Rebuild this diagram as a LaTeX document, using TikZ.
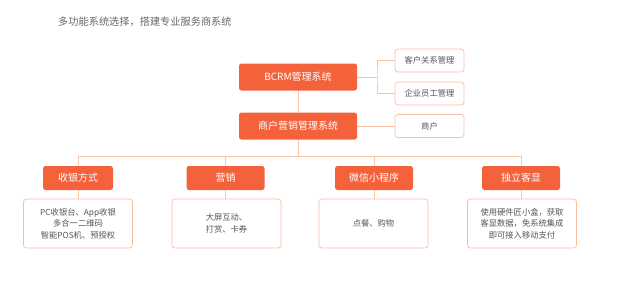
\documentclass[tikz,border=0pt]{standalone}
\usepackage{fontspec}
\setmainfont{Noto Sans CJK SC}
\usetikzlibrary{backgrounds}
\definecolor{hotorange}{HTML}{F4623C}
\definecolor{paleorange}{HTML}{F9C4A6}
\definecolor{edgeorange}{HTML}{F7BFA2}
\definecolor{txtgray}{HTML}{555555}
\tikzset{
  mainbox/.style={fill=hotorange, draw=none, rounded corners=2.5pt, text=white,
    minimum width=118pt, minimum height=27pt, inner sep=0pt, font=\fontsize{10}{12}\selectfont},
  sidebox/.style={draw=edgeorange, fill=white, rounded corners=3pt, text=txtgray,
    minimum width=69pt, minimum height=23pt, inner sep=0pt, line width=0.7pt,
    font=\fontsize{8.3}{10}\selectfont},
  catbox/.style={fill=hotorange, draw=none, rounded corners=2.5pt, text=white,
    minimum width=78pt, minimum height=24pt, inner sep=0pt, font=\fontsize{10}{12}\selectfont},
  infobox/.style={draw=edgeorange, fill=white, rounded corners=3pt, text=txtgray,
    minimum width=109pt, minimum height=49pt, inner sep=0pt, line width=0.7pt, align=center,
    font=\fontsize{8.3}{11.5}\selectfont},
  link/.style={draw=paleorange, line width=0.8pt}
}
\begin{document}
\begin{tikzpicture}[x=1pt,y=-1pt]
\useasboundingbox (0,0) rectangle (631,285);
% title
\node[anchor=west, text=black!60, inner sep=0pt, font=\fontsize{10.2}{12}\selectfont] (title) at (58,22) {多功能系统选择，搭建专业服务商系统};
% top systems
\node[mainbox] (bcrm) at (298,77) {BCRM管理系统};
\node[mainbox] (shyx) at (298,126) {商户营销管理系统};
\node[sidebox] (khgl) at (429.5,60.5) {客户关系管理};
\node[sidebox] (yggl) at (429.5,93.5) {企业员工管理};
\node[sidebox] (shbox) at (429.5,126) {商户};
% categories
\node[catbox, minimum width=70pt] (syfs) at (78,178) {收银方式};
\node[catbox] (yx) at (225.5,178) {营销};
\node[catbox] (wx) at (374,178) {微信小程序};
\node[catbox] (dlkx) at (521,178) {独立客显};
% details
\node[infobox] (syfsd) at (78,223.5) {PC收银台、App收银\\多合一二维码\\智能POS机、预授权};
\node[infobox] (yxd) at (226.5,223.5) {大屏互动、\\打赏、卡券};
\node[infobox] (wxd) at (373.5,223.5) {点餐、购物};
\node[infobox] (dlkxd) at (522,223.5) {使用硬件匠小盒，获取\\客显数据，免系统集成\\即可接入移动支付};
% connectors
\coordinate (jn) at (377,77);
\coordinate (bus) at (298,156);
\begin{scope}[on background layer]
\draw[link] (bcrm.east) -- (jn);
\draw[link] (khgl.west) -| (jn) |- (yggl.west);
\draw[link] (shyx.east) -- (shbox.west);
\draw[link] (bcrm.south) -- (shyx.north);
\draw[link] (shyx.south) -- (bus);
\draw[link] (syfs.center |- bus) -- (dlkx.center |- bus);
\draw[link] (syfs.center |- bus) -- (syfsd.north);
\draw[link] (yx.center |- bus) -- (yx.center |- yxd.north);
\draw[link] (wx.center |- bus) -- (wx.center |- wxd.north);
\draw[link] (dlkx.center |- bus) -- (dlkx.center |- dlkxd.north);
\end{scope}
\end{tikzpicture}
\end{document}
